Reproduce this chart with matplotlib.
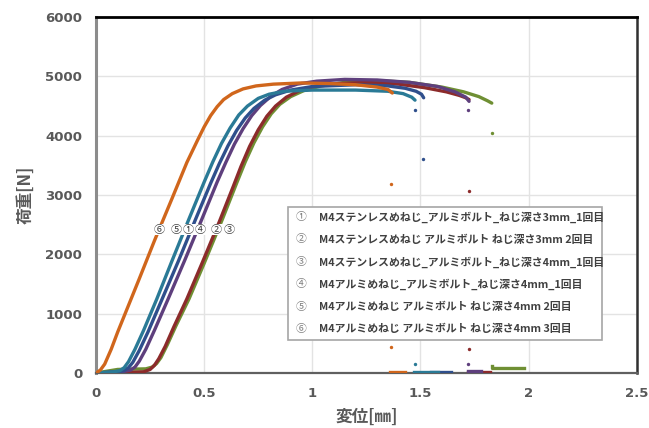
import matplotlib
matplotlib.use("Agg")
import numpy as np
import matplotlib.pyplot as plt
from matplotlib.patches import Rectangle

plt.rcParams['font.family'] = ['Noto Sans CJK JP', 'DejaVu Sans']

# --- data (displacement mm, load N) ---
# (1) stainless nut, 3mm, 1st
x1 = [0, 0.10, 0.13, 0.15, 0.17, 0.20, 0.24, 0.30, 0.38, 0.46, 0.53, 0.57, 0.61, 0.65, 0.69, 0.73, 0.78, 0.83, 0.90, 1.00, 1.20, 1.35, 1.43, 1.48, 1.505, 1.515]
y1 = [0, 20, 40, 90, 180, 380, 690, 1200, 1880, 2590, 3200, 3530, 3830, 4090, 4300, 4460, 4600, 4690, 4770, 4830, 4860, 4840, 4800, 4750, 4700, 4640]
# (2) stainless nut, 3mm, 2nd
x2 = [0, 0.15, 0.22, 0.25, 0.27, 0.29, 0.32, 0.36, 0.42, 0.49, 0.57, 0.635, 0.67, 0.71, 0.75, 0.79, 0.83, 0.88, 0.94, 1.02, 1.12, 1.25, 1.40, 1.52, 1.62, 1.68, 1.71, 1.725]
y2 = [0, 10, 20, 60, 130, 240, 450, 780, 1250, 1850, 2550, 3150, 3480, 3820, 4100, 4330, 4500, 4650, 4760, 4840, 4880, 4900, 4870, 4810, 4740, 4680, 4640, 4610]
# (3) stainless nut, 4mm, 1st
x3 = [0, 0.10, 0.23, 0.26, 0.28, 0.30, 0.33, 0.37, 0.43, 0.50, 0.585, 0.65, 0.69, 0.73, 0.77, 0.81, 0.85, 0.90, 0.96, 1.04, 1.15, 1.30, 1.45, 1.60, 1.70, 1.77, 1.81, 1.83]
y3 = [0, 60, 70, 100, 160, 260, 480, 800, 1250, 1850, 2600, 3200, 3560, 3880, 4150, 4370, 4530, 4660, 4760, 4840, 4900, 4930, 4900, 4820, 4740, 4660, 4590, 4550]
# (4) aluminium nut, 4mm, 1st
x4 = [0, 0.12, 0.16, 0.18, 0.20, 0.23, 0.27, 0.33, 0.41, 0.49, 0.56, 0.60, 0.64, 0.68, 0.72, 0.76, 0.81, 0.86, 0.93, 1.02, 1.15, 1.30, 1.45, 1.58, 1.66, 1.71, 1.725]
y4 = [0, 20, 50, 100, 200, 400, 720, 1220, 1900, 2600, 3220, 3550, 3860, 4120, 4340, 4510, 4670, 4780, 4870, 4920, 4950, 4940, 4900, 4830, 4740, 4650, 4580]
# (5) aluminium nut, 4mm, 2nd
x5 = [0, 0.08, 0.11, 0.13, 0.15, 0.18, 0.22, 0.28, 0.35, 0.43, 0.50, 0.54, 0.58, 0.62, 0.66, 0.70, 0.75, 0.80, 0.87, 1.00, 1.20, 1.35, 1.42, 1.46, 1.475]
y5 = [0, 20, 40, 90, 190, 400, 720, 1240, 1880, 2600, 3220, 3560, 3870, 4130, 4350, 4500, 4630, 4700, 4750, 4770, 4770, 4750, 4710, 4650, 4600]
# (6) aluminium nut, 4mm, 3rd
x6 = [0, 0.02, 0.04, 0.07, 0.10, 0.13, 0.20, 0.27, 0.35, 0.42, 0.47, 0.50, 0.53, 0.56, 0.59, 0.63, 0.68, 0.74, 0.82, 0.95, 1.08, 1.20, 1.30, 1.35, 1.37]
y6 = [0, 50, 150, 400, 690, 960, 1590, 2230, 2930, 3550, 3930, 4150, 4340, 4490, 4610, 4710, 4790, 4840, 4870, 4890, 4880, 4860, 4820, 4780, 4720]

# isolated points during fracture drop
drop_x = {1: [1.475, 1.51], 2: [1.725, 1.725], 3: [1.83], 4: [1.72, 1.72], 5: [1.475], 6: [1.365, 1.365]}
drop_y = {1: [4430, 3610], 2: [3070, 400], 3: [4040], 4: [4440, 160], 5: [150], 6: [3190, 440]}

# residual segments after fracture
tail_x = {1: [1.55, 1.64], 2: [1.72, 1.82], 3: [1.83, 1.83, 1.98], 4: [1.72, 1.78], 5: [1.47, 1.58], 6: [1.36, 1.43]}
tail_y = {1: [25, 25], 2: [25, 25], 3: [110, 80, 80], 4: [30, 30], 5: [25, 25], 6: [10, 10]}

series_x = {1: x1, 2: x2, 3: x3, 4: x4, 5: x5, 6: x6}
series_y = {1: y1, 2: y2, 3: y3, 4: y4, 5: y5, 6: y6}
colors = {1: '#2F4F8C', 2: '#8C2B2B', 3: '#6F8F33', 4: '#5E3F7D', 5: '#2A7A96', 6: '#D0661C'}
marks = ['①', '②', '③', '④', '⑤', '⑥']
labels = [
    'M4ステンレスめねじ_アルミボルト_ねじ深さ3mm_1回目',
    'M4ステンレスめねじ アルミボルト ねじ深さ3mm 2回目',
    'M4ステンレスめねじ_アルミボルト_ねじ深さ4mm_1回目',
    'M4アルミめねじ_アルミボルト_ねじ深さ4mm_1回目',
    'M4アルミめねじ アルミボルト ねじ深さ4mm 2回目',
    'M4アルミめねじ アルミボルト ねじ深さ4mm 3回目',
]
# curve tags placed on the rising part
tag_order = [6, 5, 1, 4, 2, 3]
tag_x = [0.29, 0.37, 0.425, 0.48, 0.557, 0.617]
tag_y = 2415

xticks = [0, 0.5, 1, 1.5, 2, 2.5]
yticks = [0, 1000, 2000, 3000, 4000, 5000, 6000]

fig = plt.figure(figsize=(6.49, 4.28), dpi=100)
ax = fig.add_axes([0.148, 0.1285, 0.833, 0.8315])

draw_order = [3, 2, 4, 1, 5, 6]
for k in draw_order:
    c = colors[k]
    ax.plot(series_x[k], series_y[k], color=c, lw=2.4, solid_capstyle='round',
            solid_joinstyle='round', zorder=3)
    ax.plot(tail_x[k], tail_y[k], color=c, lw=2.4, zorder=3)
    ax.scatter(drop_x[k], drop_y[k], color=c, s=6, zorder=3, linewidths=0)

ax.set_xlim(0, 2.5)
ax.set_ylim(0, 6000)
ax.set_xticks(xticks)
ax.set_xticklabels([f'{t:g}' for t in xticks])
ax.set_yticks(yticks)
ax.grid(True, color='#E3E3E3', lw=1.0, zorder=0)
ax.tick_params(length=0, labelsize=9.5, labelcolor='#595959', pad=10)
for lab in ax.get_xticklabels() + ax.get_yticklabels():
    lab.set_fontweight('bold')
    lab.set_family(['DejaVu Sans'])

ax.spines['left'].set_color('#8C8C8C')
ax.spines['left'].set_linewidth(2.2)
ax.spines['bottom'].set_color('#606060')
ax.spines['bottom'].set_linewidth(1.6)
ax.spines['top'].set_color('#000000')
ax.spines['top'].set_linewidth(2.0)
ax.spines['right'].set_color('#303030')
ax.spines['right'].set_linewidth(1.8)

ax.set_xlabel('変位[㎜]', fontsize=12, fontweight='bold', color='#595959', labelpad=6)
ax.set_ylabel('荷重[N]', fontsize=12, fontweight='bold', color='#595959', labelpad=8)

for k, tx in zip(tag_order, tag_x):
    ax.text(tx, tag_y, marks[k - 1], fontsize=8, color='#404040', ha='center', va='center',
            zorder=5, bbox=dict(boxstyle='square,pad=0.05', fc='white', ec='none'))

# legend box
lx0, lx1, ly0, ly1 = 0.355, 0.935, 0.093, 0.466
ax.add_patch(Rectangle((lx0, ly0), lx1 - lx0, ly1 - ly0, transform=ax.transAxes,
                       fc='white', ec='#A6A6A6', lw=1.2, zorder=6))
row_y = np.linspace(0.438, 0.124, 6)
for i in range(6):
    ax.text(0.379, row_y[i], marks[i], transform=ax.transAxes, fontsize=7.8,
            color='#7F7F7F', ha='center', va='center', zorder=7)
    ax.text(0.413, row_y[i], labels[i], transform=ax.transAxes, fontsize=7.8,
            fontweight='bold', color='#404040', ha='left', va='center', zorder=7)

fig.savefig('out.png', dpi=100)
